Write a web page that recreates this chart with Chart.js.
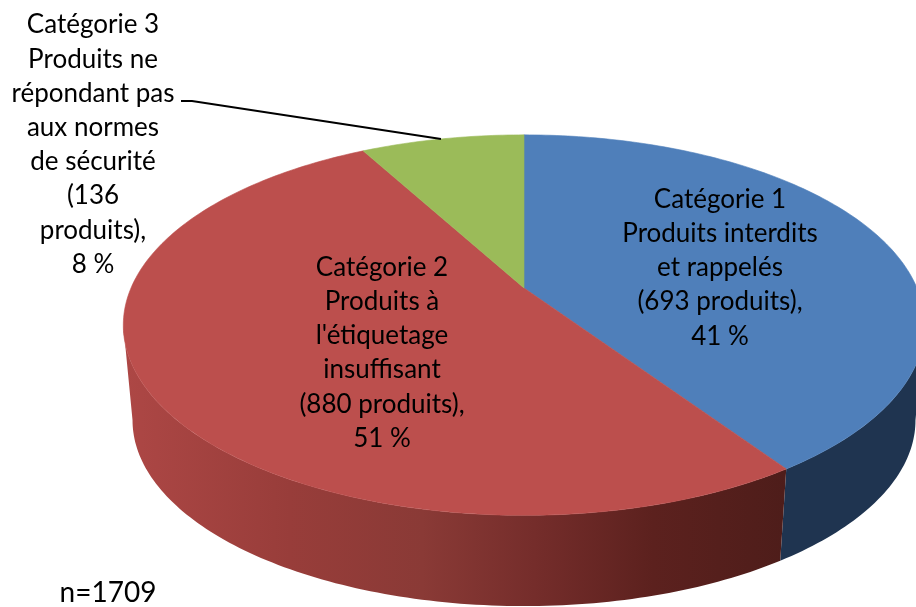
<!DOCTYPE html>
<html lang="fr">
<head>
<meta charset="utf-8">
<title>Produits par catégorie</title>
<script src="https://cdn.jsdelivr.net/npm/chart.js@4/dist/chart.umd.min.js"></script>
<style>
    html, body { margin: 0; padding: 0; background: #fff; overflow: hidden; }
    canvas { display: block; }
</style>
</head>
<body>
<canvas id="graficoPizza3d" width="916" height="607"></canvas>
<script>
// Données
const categories = ['Catégorie 1', 'Catégorie 2', 'Catégorie 3'];
const produits = [693, 880, 136];
const etiquettes = [
    ['Catégorie 1', 'Produits interdits', 'et rappelés', '(693 produits),', '41 %'],
    ['Catégorie 2', 'Produits à', "l'étiquetage", 'insuffisant', '(880 produits),', '51 %'],
    ['Catégorie 3', 'Produits ne', 'répondant pas', 'aux normes', 'de sécurité', '(136', 'produits),', '8 %']
];
const effectif = 'n=1709';

// Couleurs
const couleurs = ['#4f7fba', '#bc4f4d', '#9bbb59'];
const couleurFlancBleu = '#1f3450';
const arretsFlancRouge = [
    [0.0, '#ad4745'], [0.25, '#983d3a'], [0.45, '#8a3a36'],
    [0.62, '#752d2b'], [0.8, '#5c211e'], [1.0, '#4e1d1a']
];

// Position du texte (centre x, premier y, interligne)
const positionsEtiquettes = [[720, 199.5, 34.2], [382, 267.5, 34.2], [93, 25, 34.2]];

// Perspective de la tarte
const centreX = 524, centreY = 288;
const rayonX = 393, rayonY = 183, fuite = 0.195;
const profondeur = 96, echelleBas = 0.977;

function projeter(angle, bas) {
    let u = Math.cos(angle);
    let v = Math.sin(angle);
    let w = 1 - fuite * v;
    let e = bas ? echelleBas : 1;
    return {
        x: centreX + e * rayonX * u / w,
        y: centreY + (bas ? profondeur : 0) + e * rayonY * v / w
    };
}

function tracerArc(ctx, debut, fin, bas, premier) {
    let pas = Math.max(2, Math.ceil(Math.abs(fin - debut) * 60));
    for (let i = 0; i <= pas; i++) {
        let p = projeter(debut + (fin - debut) * i / pas, bas);
        if (i === 0 && premier) ctx.moveTo(p.x, p.y);
        else ctx.lineTo(p.x, p.y);
    }
}

// Flanc visible : seulement la partie avant de la tarte
function dessinerFlanc(ctx, arc, remplissage) {
    let limiteDroite = Math.asin(fuite);
    let limiteGauche = Math.PI - limiteDroite;
    let debut = Math.max(arc.startAngle, limiteDroite);
    let fin = Math.min(arc.endAngle, limiteGauche);
    if (fin <= debut) return;
    ctx.beginPath();
    tracerArc(ctx, debut, fin, false, true);
    tracerArc(ctx, fin, debut, true, false);
    ctx.closePath();
    ctx.fillStyle = remplissage;
    ctx.fill();
}

function dessinerDessus(ctx, arc) {
    ctx.beginPath();
    ctx.moveTo(centreX, centreY);
    tracerArc(ctx, arc.startAngle, arc.endAngle, false, false);
    ctx.closePath();
    ctx.fillStyle = arc.options.backgroundColor;
    ctx.strokeStyle = arc.options.backgroundColor;
    ctx.lineWidth = 0.6;
    ctx.fill();
    ctx.stroke();
}

// Plugin : dessine la tarte en 3D à partir des angles calculés par Chart.js
const tarte3d = {
    id: 'tarte3d',
    beforeDatasetDraw: function () {
        return false;
    },
    afterDatasetsDraw: function (chart) {
        let ctx = chart.ctx;
        let arcs = chart.getDatasetMeta(0).data;

        let degrade = ctx.createLinearGradient(125, 0, 785, 0);
        arretsFlancRouge.forEach(function (a) {
            degrade.addColorStop(a[0], a[1]);
        });

        ctx.save();
        dessinerFlanc(ctx, arcs[0], couleurFlancBleu);
        dessinerFlanc(ctx, arcs[1], degrade);
        arcs.forEach(function (arc) {
            dessinerDessus(ctx, arc);
        });

        // Trait de rappel de la catégorie 3
        ctx.beginPath();
        ctx.moveTo(181, 101);
        ctx.lineTo(192, 101);
        ctx.lineTo(441, 139);
        ctx.strokeStyle = '#000';
        ctx.lineWidth = 2;
        ctx.stroke();

        // Textes
        ctx.fillStyle = '#000';
        ctx.font = '26px Lato';
        ctx.textAlign = 'center';
        ctx.textBaseline = 'middle';
        etiquettes.forEach(function (lignes, i) {
            let pos = positionsEtiquettes[i];
            lignes.forEach(function (ligne, j) {
                ctx.fillText(ligne, pos[0], pos[1] + j * pos[2]);
            });
        });
        ctx.font = '28px Lato';
        ctx.fillText(effectif, 108, 593);
        ctx.restore();
    }
};

const config = {
    type: 'pie',
    data: {
        labels: categories,
        datasets: [{
            label: 'Produits',
            data: produits,
            backgroundColor: couleurs,
            borderWidth: 0
        }]
    },
    options: {
        responsive: false,
        animation: false,
        plugins: {
            legend: { display: false },
            tooltip: { enabled: false }
        }
    },
    plugins: [tarte3d]
};

let monGraphique = new Chart(document.getElementById('graficoPizza3d'), config);
</script>
</body>
</html>
